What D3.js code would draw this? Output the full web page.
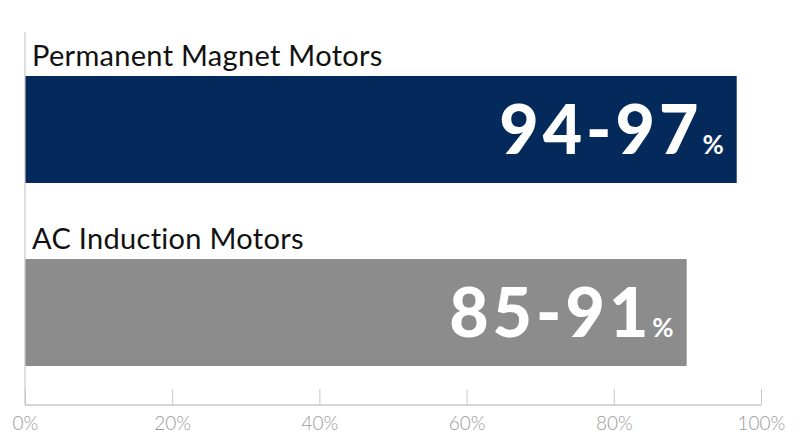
<!DOCTYPE html>
<html>
<head>
<meta charset="utf-8">
<script src="https://cdn.jsdelivr.net/npm/d3@7"></script>
<style>
  body { margin: 0; background: #fff; }
  svg { display: block; }
</style>
</head>
<body>
<div class="container"></div>
<script>
var SVG_WIDTH = 800, SVG_HEIGHT = 447;

// data
var categories = ["Permanent Magnet Motors", "AC Induction Motors"];
var barValues = [96.7, 89.9];
var rangeLabels = ["94-97", "85-91"];
var barColors = ["#042a5b", "#8c8c8c"];
var tickValues = [0, 20, 40, 60, 80, 100];

document.addEventListener('DOMContentLoaded', function () {
    var svg = d3.select(".container")
        .append("svg")
        .attr("width", SVG_WIDTH)
        .attr("height", SVG_HEIGHT);

    var x = d3.scaleLinear()
        .domain([0, 100])
        .range([25, 761]);

    // each band holds a label row plus the bar
    var y = d3.scaleBand()
        .domain(categories)
        .range([33, 399])
        .paddingInner(0.0);

    var rows = svg.selectAll("g.row")
        .data(categories)
        .enter().append("g")
        .attr("class", "row")
        .attr("transform", function (d) { return "translate(0," + y(d) + ")"; });

    rows.append("rect")
        .attr("x", x(0))
        .attr("y", 43)
        .attr("width", function (d, i) { return x(barValues[i]) - x(0); })
        .attr("height", 107)
        .attr("fill", function (d, i) { return barColors[i]; });

    rows.append("text")
        .attr("x", 32)
        .attr("y", 33)
        .style("font-family", "Lato, 'Open Sans', sans-serif")
        .style("font-size", "29px")
        .style("letter-spacing", "0.3px")
        .style("fill", "#111")
        .text(function (d) { return d; });

    var val = rows.append("text")
        .attr("x", function (d, i) { return x(barValues[i]) - 13; })
        .attr("y", 121)
        .attr("text-anchor", "end")
        .style("font-family", "Lato, sans-serif")
        .style("font-weight", 900)
        .style("fill", "#fff");
    val.append("tspan")
        .style("font-size", "68px")
        .style("letter-spacing", "4px")
        .text(function (d, i) { return rangeLabels[i]; });
    val.append("tspan")
        .attr("dx", 0)
        .style("font-size", "26px")
        .style("font-weight", 700)
        .text("%");

    // axis
    var axis = svg.append("g")
        .attr("transform", "translate(0,405)")
        .call(d3.axisBottom(x)
            .tickValues(tickValues)
            .tickSize(-16)
            .tickPadding(8)
            .tickFormat(function (d) { return d + "%"; }));
    axis.select(".domain").attr("stroke", "#c8c8c8").attr("stroke-width", 1.5)
        .attr("d", "M" + x(0) + ",0H" + x(100));
    axis.selectAll(".tick line").attr("stroke", "#c8c8c8");
    axis.selectAll(".tick text")
        .attr("dy", "0.9em")
        .style("font-family", "Lato, sans-serif")
        .style("font-weight", 300)
        .style("font-size", "19px")
        .style("fill", "#9a9a9a");

    // left vertical line
    svg.append("line")
        .attr("x1", x(0)).attr("x2", x(0))
        .attr("y1", 32).attr("y2", 405)
        .attr("stroke", "#c8c8c8")
        .attr("stroke-width", 1.2);
});
</script>
</body>
</html>
